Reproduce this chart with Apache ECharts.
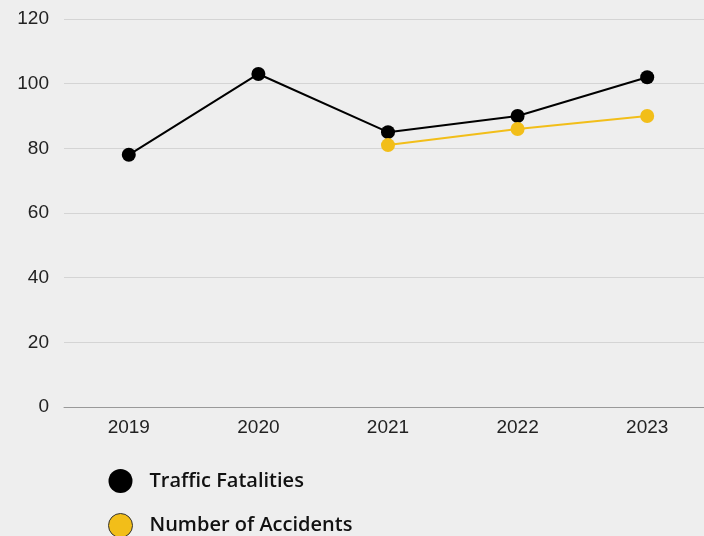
<!DOCTYPE html>
<html><head><meta charset="utf-8">
<script src="https://cdn.jsdelivr.net/npm/echarts@6/dist/echarts.min.js"></script>
<style>html,body{margin:0;padding:0;background:#eeeeee;overflow:hidden;width:704px;height:536px;}#c{width:712px;height:536px;}</style>
</head><body><div id="c"></div>
<script>
const years = ['2019','2020','2021','2022','2023'];
const trafficFatalities = [78, 103, 85, 90, 102];
const numberOfAccidents = [null, null, 81, 86, 90];
const yTicks = [0, 20, 40, 60, 80, 100, 120];

const chart = echarts.init(document.getElementById('c'));
chart.setOption({
  backgroundColor: '#eeeeee',
  animation: false,
  grid: {left: 64, right: 0, top: 19, height: 388, containLabel: false},
  xAxis: {
    type: 'category', data: years, boundaryGap: true,
    axisLine: {lineStyle: {color: '#999999', width: 1}},
    axisTick: {show: false},
    axisLabel: {color: '#222', fontFamily: 'Liberation Sans, Arial', fontSize: 19, margin: 11}
  },
  yAxis: {
    type: 'value', min: yTicks[0], max: yTicks[yTicks.length-1], interval: 20,
    axisLine: {show: false}, axisTick: {show: false},
    splitLine: {lineStyle: {color: '#d4d4d4', width: 1}},
    axisLabel: {color: '#222', fontFamily: 'Liberation Sans, Arial', fontSize: 19, margin: 15, padding: [3,0,0,0]}
  },
  legend: {
    orient: 'vertical', left: 103, top: 464, height: 100, itemGap: 20,
    icon: 'circle', itemWidth: 24, itemHeight: 24,
    textStyle: {fontFamily: 'Open Sans', fontWeight: 600, fontSize: 20, color: '#111', padding: [0,0,0,12]},
    data: [
      {name: 'Traffic Fatalities', itemStyle: {color: '#000000'}},
      {name: 'Number of Accidents', itemStyle: {color: '#f2be19', borderColor: '#333', borderWidth: 1}}
    ]
  },
  series: [
    {name: 'Traffic Fatalities', type: 'line', data: trafficFatalities,
     symbol: 'circle', symbolSize: 14, color: '#000',
     lineStyle: {color: '#000', width: 2}, itemStyle: {color: '#000'}},
    {name: 'Number of Accidents', type: 'line', data: numberOfAccidents,
     symbol: 'circle', symbolSize: 14, color: '#f2be19',
     lineStyle: {color: '#f2be19', width: 2}, itemStyle: {color: '#f2be19'}}
  ]
});
</script></body></html>
